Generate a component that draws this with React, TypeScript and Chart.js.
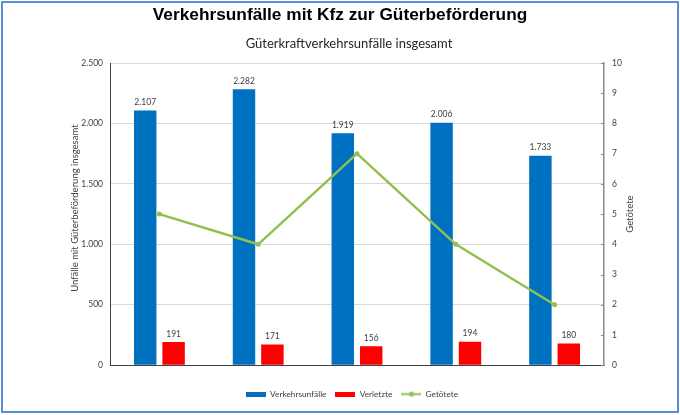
import React, { useEffect, useRef } from "react";
import { Chart, registerables } from "chart.js";

Chart.register(...registerables);

const years = ["2018", "2019", "2020", "2021", "2022"];
const unfaelle = [2107, 2282, 1919, 2006, 1733];
const verletzte = [191, 171, 156, 194, 180];
const getoetete = [5, 4, 7, 4, 2];
const titleText = "Verkehrsunfälle mit Kfz zur Güterbeförderung";
const subtitleText = "Güterkraftverkehrsunfälle insgesamt";
const leftAxisTitle = "Unfälle mit Güterbeförderung insgesamt";
const rightAxisTitle = "Getötete";
const seriesNames = ["Verkehrsunfälle", "Verletzte", "Getötete"];

const BLUE = "#0070C0";
const RED = "#FF0000";
const GREEN = "#92C050";
const TEXT = "#404040";
const FONT = "Lato";

const fmt = (v: number) => String(Math.round(v)).replace(/\B(?=(\d{3})+(?!\d))/g, ".");

function makeBox(color: string) {
  const c = document.createElement("canvas");
  c.width = 20;
  c.height = 5;
  const x = c.getContext("2d")!;
  x.fillStyle = color;
  x.fillRect(0, 0, 20, 5);
  return c;
}
function makeLineIcon(color: string) {
  const c = document.createElement("canvas");
  c.width = 20;
  c.height = 7;
  const x = c.getContext("2d")!;
  x.strokeStyle = color;
  x.lineWidth = 2;
  x.beginPath();
  x.moveTo(0, 3.5);
  x.lineTo(20, 3.5);
  x.stroke();
  x.fillStyle = color;
  x.beginPath();
  x.arc(10, 3.5, 2.5, 0, Math.PI * 2);
  x.fill();
  return c;
}

const decoPlugin = {
  id: "deco",
  afterLayout(chart: any) {
    if (chart.legend) {
      chart.legend.left += 12;
      chart.legend.right += 12;
    }
  },
  beforeDraw(chart: any) {
    const { ctx, width, height } = chart;
    ctx.save();
    ctx.fillStyle = "#ffffff";
    ctx.fillRect(0, 0, width, height);
    ctx.restore();
  },
  afterDatasetsDraw(chart: any) {
    const { ctx } = chart;
    ctx.save();
    ctx.font = `8.5px ${FONT}`;
    ctx.fillStyle = TEXT;
    ctx.textAlign = "center";
    ctx.textBaseline = "middle";
    [0, 1].forEach((di) => {
      const meta = chart.getDatasetMeta(di);
      const data = chart.data.datasets[di].data as number[];
      meta.data.forEach((el: any, i: number) => {
        ctx.fillText(fmt(data[i]), el.x, el.y - 8);
      });
    });
    ctx.restore();
  },
  afterDraw(chart: any) {
    const { ctx, chartArea, width, height } = chart;
    ctx.save();
    // frame
    ctx.strokeStyle = "#5B8ED6";
    ctx.lineWidth = 2;
    ctx.strokeRect(2, 2, width - 4, height - 5);
    // titles
    ctx.fillStyle = "#000000";
    ctx.textAlign = "center";
    ctx.textBaseline = "middle";
    ctx.font = `bold 17.3px "Liberation Sans"`;
    ctx.fillText(titleText, 340, 15);
    ctx.fillStyle = "#262626";
    ctx.font = `13px ${FONT}`;
    ctx.fillText(subtitleText, 349, 44);
    // axis titles
    ctx.fillStyle = TEXT;
    ctx.font = `9.5px ${FONT}`;
    const cy = (chartArea.top + chartArea.bottom) / 2;
    ctx.save();
    ctx.translate(75, cy - 6);
    ctx.rotate(-Math.PI / 2);
    ctx.fillText(leftAxisTitle, 0, 0);
    ctx.restore();
    ctx.save();
    ctx.translate(630, cy);
    ctx.rotate(-Math.PI / 2);
    ctx.fillText(rightAxisTitle, 0, 0);
    ctx.restore();
    // right axis inner tick marks
    const y1 = chart.scales.y1;
    ctx.strokeStyle = "#8C8C8C";
    ctx.lineWidth = 1;
    y1.ticks.forEach((t: any) => {
      const y = Math.round(y1.getPixelForValue(t.value)) + 0.5;
      ctx.beginPath();
      ctx.moveTo(chartArea.right - 3, y);
      ctx.lineTo(chartArea.right, y);
      ctx.stroke();
    });
    ctx.restore();
  },
};

export default function App() {
  const ref = useRef<HTMLCanvasElement>(null);
  useEffect(() => {
    const icons = [makeBox(BLUE), makeBox(RED), makeLineIcon(GREEN)];
    const chart = new Chart(ref.current!, {
      type: "bar",
      data: {
        labels: years,
        datasets: [
          {
            label: seriesNames[0],
            data: unfaelle,
            backgroundColor: BLUE,
            yAxisID: "y",
            barPercentage: 0.79,
            categoryPercentage: 0.575,
            order: 1,
          },
          {
            label: seriesNames[1],
            data: verletzte,
            backgroundColor: RED,
            yAxisID: "y",
            barPercentage: 0.79,
            categoryPercentage: 0.575,
            order: 1,
          },
          {
            type: "line",
            label: seriesNames[2],
            data: getoetete,
            borderColor: GREEN,
            backgroundColor: GREEN,
            borderWidth: 2.5,
            pointRadius: 2.5,
            pointBackgroundColor: GREEN,
            pointBorderWidth: 0,
            yAxisID: "y1",
            order: 0,
          } as any,
        ],
      },
      options: {
        animation: false,
        responsive: false,
        maintainAspectRatio: false,
        layout: { padding: { top: 63, left: 0, right: 0, bottom: 6.75 } },
        font: { family: FONT },
        plugins: {
          title: { display: false },
          tooltip: { enabled: false },
          legend: {
            display: true,
            position: "bottom",
            labels: {
              usePointStyle: true,
              pointStyleWidth: 20,
              padding: 9,
              color: TEXT,
              font: { size: 8.3, family: FONT },
              generateLabels: () =>
                seriesNames.map((n, i) => ({
                  text: n,
                  pointStyle: icons[i] as any,
                  fillStyle: "transparent",
                  strokeStyle: "transparent",
                  lineWidth: 0,
                  hidden: false,
                  datasetIndex: i,
                  fontColor: TEXT,
                })),
            },
          },
        },
        scales: {
          x: {
            offset: true,
            grid: { display: false },
            border: { display: true, color: "#404040", width: 1 },
            ticks: { color: TEXT, font: { size: 8.5, family: FONT }, padding: 7, maxRotation: 0 },
            afterFit: (s: any) => {
              s.height = 15.75;
            },
          },
          y: {
            position: "left",
            min: 0,
            max: 2500,
            ticks: {
              stepSize: 500,
              color: TEXT,
              font: { size: 8.5, family: FONT },
              padding: 7,
              callback: (v: any) => fmt(Number(v)),
            },
            grid: { color: "#D9D9D9", drawTicks: false, lineWidth: 1 },
            border: { display: true, color: "#404040", width: 1 },
            afterFit: (s: any) => {
              s.width = 110;
            },
          },
          y1: {
            position: "right",
            min: 0,
            max: 10,
            ticks: {
              stepSize: 1,
              color: TEXT,
              font: { size: 8.5, family: FONT },
              padding: 8,
            },
            grid: { drawOnChartArea: false, drawTicks: false },
            border: { display: true, color: "#8C8C8C", width: 1.5 },
            afterFit: (s: any) => {
              s.width = 76;
            },
          },
        },
      },
      plugins: [decoPlugin],
    });
    return () => chart.destroy();
  }, []);
  return (
    <div style={{ position: "absolute", left: 0, top: 0, width: 680, height: 415 }}>
      <canvas ref={ref} width={680} height={415} style={{ width: 680, height: 415, display: "block" }} />
    </div>
  );
}
